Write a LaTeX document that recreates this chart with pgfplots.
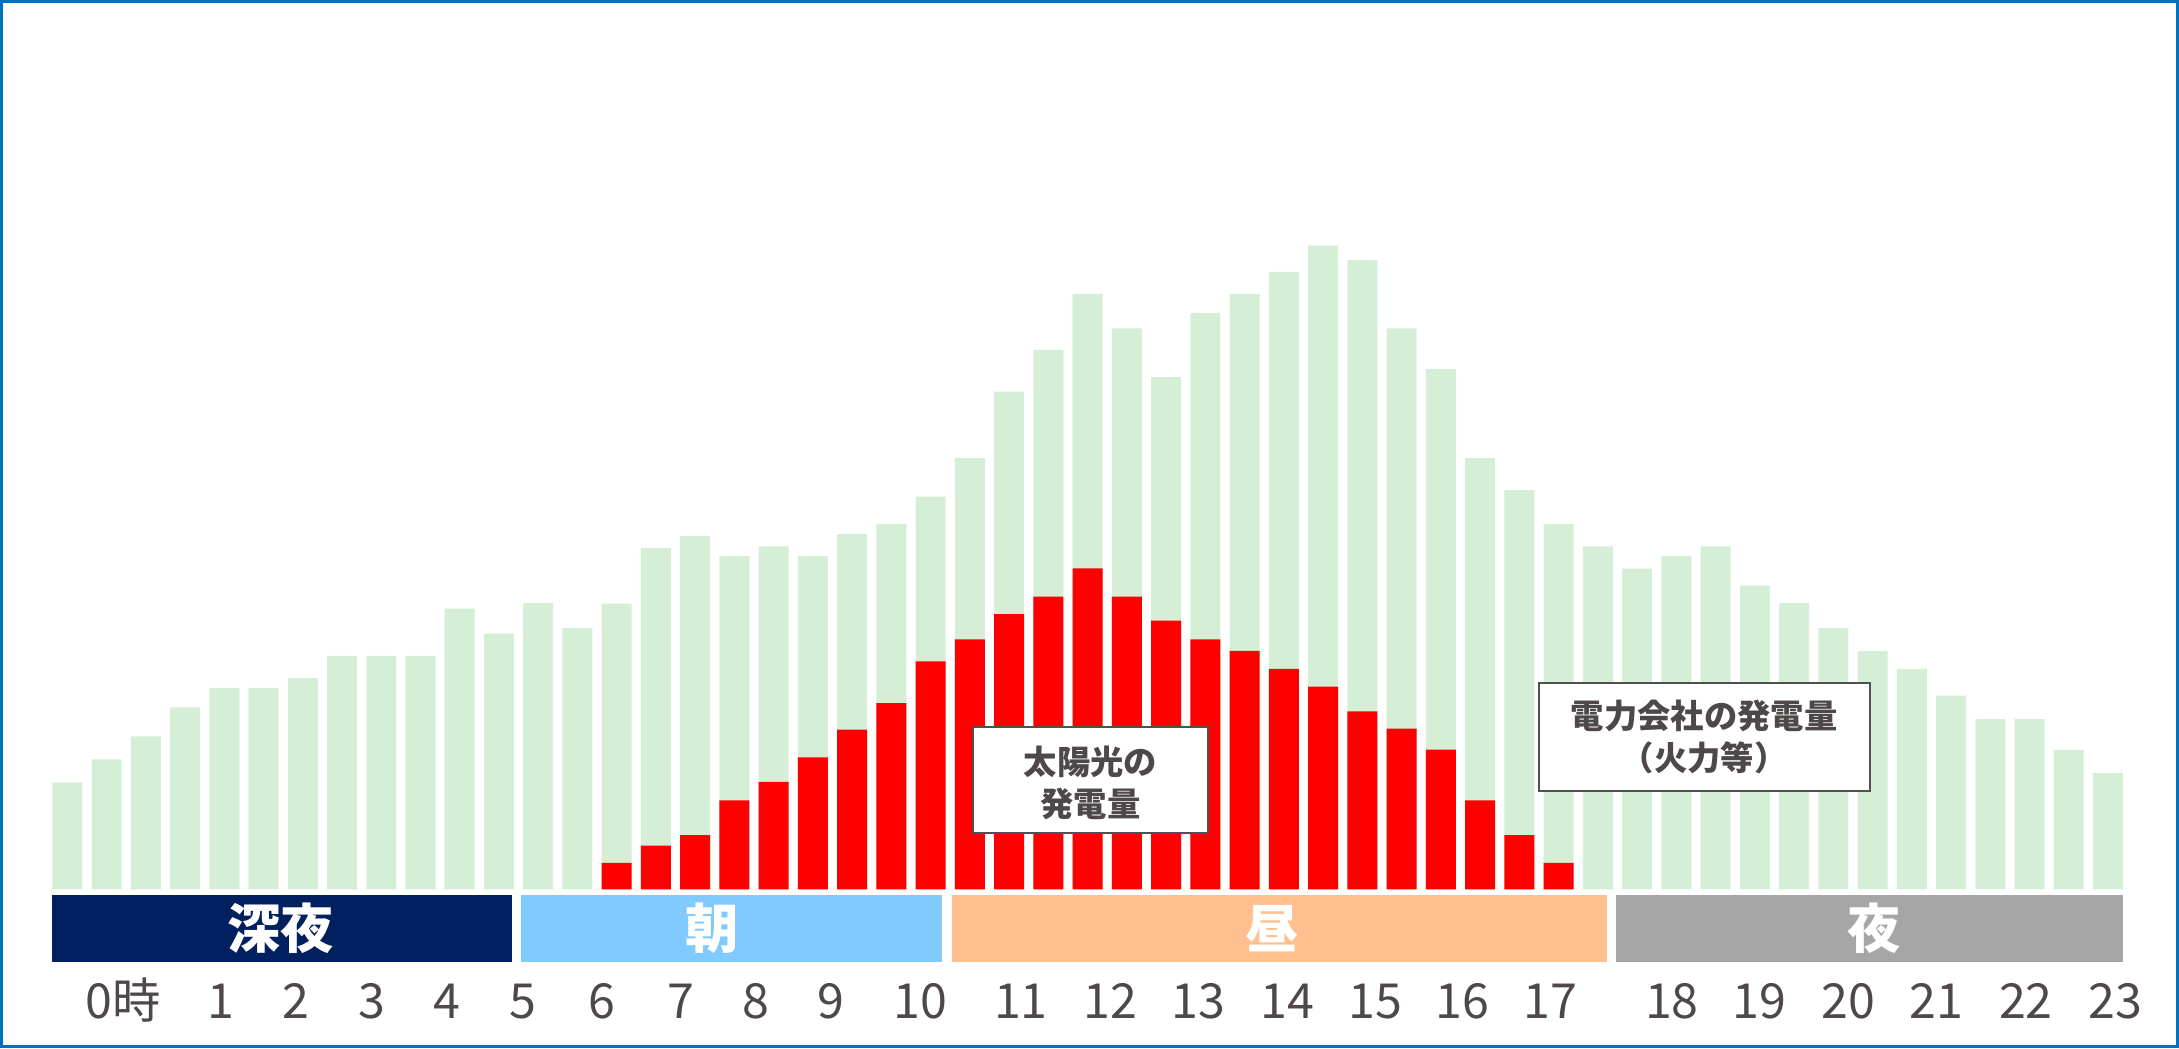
\documentclass[border=0pt]{standalone}
\usepackage{fontspec}
\setmainfont{Noto Sans CJK JP}
\usepackage{pgfplots}
\usepackage{pgfplotstable}
\pgfplotsset{compat=1.18}
\definecolor{barGreen}{HTML}{D5EFD6}
\definecolor{barRed}{HTML}{FF0000}
\definecolor{navyb}{HTML}{002060}
\definecolor{skyb}{HTML}{80CAFF}
\definecolor{peachb}{HTML}{FFBF8F}
\definecolor{grayb}{HTML}{A6A6A6}
\definecolor{txt}{HTML}{4F4848}
\definecolor{framec}{HTML}{0070C0}
\definecolor{boxline}{HTML}{505050}

\pgfplotstableread{
x y
0 77
1 93.5
2 110
3 131
4 145
5 145
6 152
7 168
8 168
9 168
10 202
11 184
12 206
13 188
14 205.5
15 245.6
16 254.2
17 239.8
18 246.8
19 239.8
20 255.7
21 262.9
22 282.5
23 310.4
24 358.1
25 388.1
26 428.4
27 403.7
28 368.6
29 414.7
30 428.4
31 444.2
32 463.1
33 452.8
34 403.7
35 374.4
36 310.4
37 287.3
38 262.9
39 246.8
40 230.7
41 239.8
42 246.8
43 218.5
44 206
45 188
46 171.5
47 158.6
48 139.4
49 122.4
50 122.4
51 100.3
52 83.8
}\totaltable

\pgfplotstableread{
x y
14 19
15 31.4
16 39
17 64
18 77.4
19 95
20 115
21 134
22 164
23 179.9
24 198.1
25 210.6
26 231
27 210.6
28 193.3
29 179.9
30 171.5
31 158.7
32 145.8
33 128
34 115.6
35 100.5
36 64
37 39
38 19
}\solartable

\begin{document}
\begin{tikzpicture}
\begin{axis}[
  x=11.772pt, y=0.41691pt,
  xmin=-1.715, xmax=53.81, ymin=-114.2, ymax=639.9,
  axis line style={draw=none},
  ytick=\empty,
  xtick={1.42,3.92,5.83,7.76,9.67,11.6,13.62,15.63,17.54,19.47,21.74,24.3,26.59,28.82,31.09,33.33,35.56,37.8,40.89,43.12,45.39,47.63,49.91,52.18},
  xticklabels={0時,1,2,3,4,5,6,7,8,9,10,11,12,13,14,15,16,17,18,19,20,21,22,23},
  major tick length=0pt,
  xticklabel style={anchor=base, yshift=8.9pt, font=\fontsize{14.5}{16}\selectfont, text=txt, inner sep=0pt},
  clip=false,
]
\addplot[ybar, bar width=9pt, bar shift=0pt, fill=barGreen, draw=none] table[x=x,y=y]{\totaltable};
\addplot[ybar, bar width=9pt, bar shift=0pt, fill=barRed, draw=none] table[x=x,y=y]{\solartable};

\fill[navyb] (axis cs:-0.40,-4) rectangle (axis cs:11.33,-52);
\fill[skyb] (axis cs:11.57,-4) rectangle (axis cs:22.29,-52);
\fill[peachb] (axis cs:22.55,-4) rectangle (axis cs:39.24,-52);
\fill[grayb] (axis cs:39.46,-4) rectangle (axis cs:52.38,-52);
\node[font=\fontsize{16}{16}\selectfont\bfseries, text=white] at (axis cs:5.44,-28.1) {深夜};
\node[font=\fontsize{16}{16}\selectfont\bfseries, text=white] at (axis cs:16.43,-28.1) {朝};
\node[font=\fontsize{16}{16}\selectfont\bfseries, text=white] at (axis cs:30.7,-28.1) {昼};
\node[font=\fontsize{16}{16}\selectfont\bfseries, text=white] at (axis cs:46.04,-28.1) {夜};

\draw[fill=white, draw=boxline, line width=0.6pt] (axis cs:23.08,40.3) rectangle (axis cs:29.06,116.6);
\node[font=\fontsize{10}{12.5}\selectfont\bfseries, text=txt, align=center] at (axis cs:26.07,76.5) {太陽光の\\発電量};
\draw[fill=white, draw=boxline, line width=0.6pt] (axis cs:37.49,70.9) rectangle (axis cs:45.93,148.7);
\node[font=\fontsize{10}{12.5}\selectfont\bfseries, text=txt, align=center] at (axis cs:41.71,109.5) {電力会社の発電量\\（火力等）};

\coordinate (SW) at (rel axis cs:0,0);
\coordinate (NE) at (rel axis cs:1,1);
\end{axis}
\pgfresetboundingbox
\path[use as bounding box] (SW) rectangle (NE);
\draw[framec, line width=0.8pt] ([shift={(0.4pt,0.4pt)}]SW) rectangle ([shift={(-0.4pt,-0.4pt)}]NE);
\end{tikzpicture}
\end{document}
